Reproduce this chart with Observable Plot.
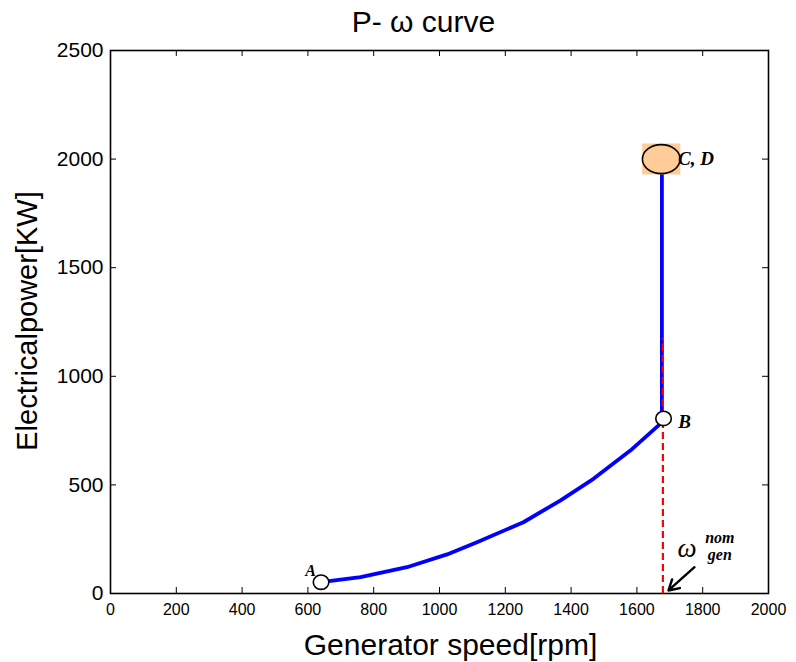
<!DOCTYPE html>
<html>
<head>
<meta charset="utf-8">
<script src="https://cdn.jsdelivr.net/npm/d3@7"></script>
<script src="https://cdn.jsdelivr.net/npm/@observablehq/plot@0.6"></script>
<style>
  html, body { margin: 0; padding: 0; background: #fff; }
  #chart svg { display: block; }
</style>
</head>
<body>
<div id="chart"></div>
<script>
// ---- data ----
const titleText = "P- \u03c9 curve";
const xLabel = "Generator speed[rpm]";
const yLabel = "Electricalpower[KW]";
const xTicks = [0, 200, 400, 600, 800, 1000, 1200, 1400, 1600, 1800, 2000];
const yTicks = [0, 500, 1000, 1500, 2000, 2500];

// blue P-ω curve from A to B
const curveSpeed = [640, 760, 901, 1023, 1114, 1255, 1367, 1468, 1580, 1671, 1681];
const curvePower = [52, 75, 121, 180, 236, 328, 428, 528, 658, 781, 806];
// vertical blue segment from B to C, D
const verticalSpeed = [1676, 1676];
const verticalPower = [806, 1990];

// operating points
const pointNames = ["A", "B", "C, D"];
const pointSpeed = [640, 1681, 1674];
const pointPower = [52, 806, 2000];
const pointLabelSpeed = [608, 1745, 1725];
const pointLabelPower = [104, 790, 2000];

// nominal generator speed (red dashed line)
const nominalSpeed = [1679];
const nominalLow = [0];
const nominalHigh = [1174];

// annotation ω_gen^nom and arrow
const arrowFrom = [1775, 121];
const arrowTo = [1696, 14];
const omegaPos = [1752, 206];
const supPos = [1852, 255];
const subPos = [1852, 178];

// ---- layout ----
const W = 796, H = 662;
const mL = 110, mR = 28, mT = 50, mB = 69;
const fw = W - mL - mR, fh = H - mT - mB;
const tick = 6;

const curve = curveSpeed.map((s, i) => ({s, p: curvePower[i]}));
const vertical = verticalSpeed.map((s, i) => ({s, p: verticalPower[i]}));
const points = pointNames.map((n, i) => ({n, s: pointSpeed[i], p: pointPower[i], ls: pointLabelSpeed[i], lp: pointLabelPower[i]}));

function ellipseSymbol(kx) {
  return {
    draw(ctx, size) {
      const r = Math.sqrt(size / Math.PI);
      const rx = r * kx, ry = r, k = 0.5523;
      ctx.moveTo(rx, 0);
      ctx.bezierCurveTo(rx, ry * k, rx * k, ry, 0, ry);
      ctx.bezierCurveTo(-rx * k, ry, -rx, ry * k, -rx, 0);
      ctx.bezierCurveTo(-rx, -ry * k, -rx * k, -ry, 0, -ry);
      ctx.bezierCurveTo(rx * k, -ry, rx, -ry * k, rx, 0);
      ctx.closePath();
    }
  };
}
function rectSymbol(kx) {
  return {
    draw(ctx, size) {
      const r = Math.sqrt(size / Math.PI);
      ctx.rect(-r * kx, -r, 2 * r * kx, 2 * r);
    }
  };
}

const sans = "Liberation Sans, Arial, Helvetica, sans-serif";
const serif = "Liberation Serif, Times New Roman, serif";

const chart = Plot.plot({
  width: W, height: H,
  marginLeft: mL, marginRight: mR, marginTop: mT, marginBottom: mB,
  style: {fontFamily: sans, color: "black", background: "white", overflow: "visible"},
  x: {domain: [0, 2000]},
  y: {domain: [0, 2500]},
  marks: [
    Plot.axisX(xTicks, {tickSize: 0, tickPadding: 10, fontSize: 16, tickFormat: d => String(d), label: null}),
    Plot.axisY(yTicks, {tickSize: 0, tickPadding: 7, fontSize: 21, tickFormat: d => String(d), label: null}),
    // inward ticks on all four sides
    Plot.tickX(xTicks, {x: d => d, insetTop: fh - tick, stroke: "black", strokeWidth: 1}),
    Plot.tickX(xTicks, {x: d => d, insetBottom: fh - tick, stroke: "black", strokeWidth: 1}),
    Plot.tickY(yTicks, {y: d => d, insetRight: fw - tick, stroke: "black", strokeWidth: 1}),
    Plot.tickY(yTicks, {y: d => d, insetLeft: fw - tick, stroke: "black", strokeWidth: 1}),
    Plot.frame({stroke: "black", strokeWidth: 1.6}),
    // blue curve
    Plot.line(curve, {x: "s", y: "p", stroke: "#0000ff", strokeWidth: 3.8}),
    Plot.line(vertical, {x: "s", y: "p", stroke: "#0000ff", strokeWidth: 3.8}),
    // red dashed nominal speed
    Plot.ruleX(nominalSpeed, {x: d => d, y1: () => nominalLow[0], y2: () => nominalHigh[0], stroke: "#ff0000", strokeWidth: 2.2, strokeDasharray: "7,4"}),
    // C, D marker
    Plot.dot([points[2]], {x: "s", y: "p", r: 15.5, symbol: rectSymbol(1.23), fill: "#ffcc99", stroke: "none"}),
    Plot.dot([points[2]], {x: "s", y: "p", r: 14.5, symbol: ellipseSymbol(1.3), fill: "#ffcc99", stroke: "black", strokeWidth: 1.6}),
    // A, B markers
    Plot.dot(points.slice(0, 2), {x: "s", y: "p", r: 7.2, symbol: ellipseSymbol(1.08), fill: "white", stroke: "black", strokeWidth: 1.6}),
    // point labels
    Plot.text([points[0]], {x: "ls", y: "lp", text: "n", fontFamily: serif, fontStyle: "italic", fontWeight: "bold", fontSize: 16}),
    Plot.text([points[1]], {x: "ls", y: "lp", text: "n", fontFamily: serif, fontStyle: "italic", fontWeight: "bold", fontSize: 19}),
    Plot.text([points[2]], {x: "ls", y: "lp", text: "n", textAnchor: "start", fontFamily: serif, fontStyle: "italic", fontWeight: "bold", fontSize: 19}),
    // arrow
    Plot.arrow([0], {x1: () => arrowFrom[0], y1: () => arrowFrom[1], x2: () => arrowTo[0], y2: () => arrowTo[1], stroke: "black", strokeWidth: 2.4, headLength: 11}),
    // ω_gen^nom
    Plot.text(["\u03c9"], {x: () => omegaPos[0], y: () => omegaPos[1], text: d => d, fontFamily: serif, fontStyle: "italic", fontSize: 27}),
    Plot.text(["nom"], {x: () => supPos[0], y: () => supPos[1], text: d => d, fontFamily: serif, fontStyle: "italic", fontWeight: "bold", fontSize: 16}),
    Plot.text(["gen"], {x: () => subPos[0], y: () => subPos[1], text: d => d, fontFamily: serif, fontStyle: "italic", fontWeight: "bold", fontSize: 16}),
    // title and axis labels
    Plot.text([titleText], {frameAnchor: "top", lineAnchor: "middle", textAnchor: "middle", text: d => d, dy: -28, dx: -16, fontSize: 30}),
    Plot.text([xLabel], {frameAnchor: "bottom", lineAnchor: "middle", textAnchor: "middle", text: d => d, dy: 52, dx: 11, fontSize: 30}),
    Plot.text([yLabel], {frameAnchor: "left", lineAnchor: "middle", textAnchor: "middle", text: d => d, rotate: -90, dx: -83, dy: -1, fontSize: 29})
  ]
});
document.getElementById("chart").appendChild(chart);
</script>
</body>
</html>
